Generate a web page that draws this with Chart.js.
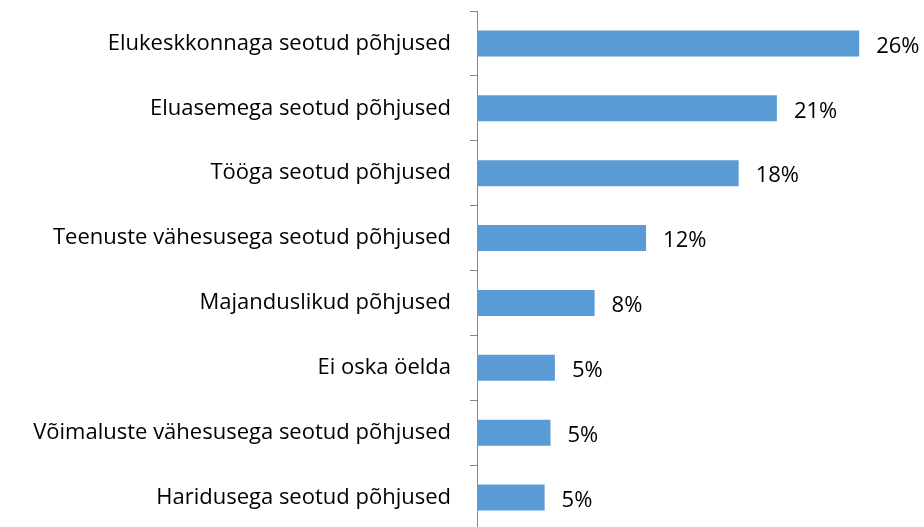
<!DOCTYPE html>
<html>
<head>
<meta charset="utf-8">
<script src="https://cdn.jsdelivr.net/npm/chart.js@4/dist/chart.umd.min.js"></script>
<style>
  html, body { margin: 0; padding: 0; background: #fff; overflow: hidden; }
  #wrap { position: relative; width: 924px; height: 530px; }
</style>
</head>
<body>
<div id="wrap"><canvas id="reasonsChart"></canvas></div>
<script>
const categories = [
  "Elukeskkonnaga seotud põhjused",
  "Eluasemega seotud põhjused",
  "Tööga seotud põhjused",
  "Teenuste vähesusega seotud põhjused",
  "Majanduslikud põhjused",
  "Ei oska öelda",
  "Võimaluste vähesusega seotud põhjused",
  "Haridusega seotud põhjused"
];
const shares = [26.0, 20.4, 17.8, 11.5, 8.0, 5.3, 5.0, 4.6];
const shareLabels = ["26%", "21%", "18%", "12%", "8%", "5%", "5%", "5%"];

const FONT = "'Open Sans', Lato, sans-serif";
const FONT_SIZE = 22;

// value labels at the end of each bar
const barLabels = {
  id: 'barLabels',
  afterDatasetsDraw(chart) {
    const c = chart.ctx;
    const meta = chart.getDatasetMeta(0);
    c.save();
    c.font = FONT_SIZE + "px " + FONT;
    c.fillStyle = "#000";
    c.textAlign = "left";
    c.textBaseline = "middle";
    meta.data.forEach((bar, i) => {
      c.fillText(shareLabels[i], bar.x + 17, bar.y + 3);
    });
    c.restore();
  }
};

var ctx = document.getElementById("reasonsChart").getContext("2d");
var myChart = new Chart(ctx, {
  type: 'bar',
  data: {
    labels: categories,
    datasets: [{
      data: shares,
      backgroundColor: "#5B9BD5",
      borderWidth: 0,
      categoryPercentage: 1,
      barPercentage: 0.4
    }]
  },
  options: {
    indexAxis: 'y',
    responsive: true,
    maintainAspectRatio: false,
    animation: false,
    layout: { padding: { top: 11, right: 6, left: 0, bottom: 0 } },
    plugins: {
      legend: { display: false },
      tooltip: { enabled: false }
    },
    scales: {
      x: {
        display: false,
        min: 0,
        max: 30
      },
      y: {
        afterFit(scale) {
          scale.width = 477;
          scale.paddingTop = 0;
          scale.paddingBottom = 0;
        },
        border: { display: true, color: "#868686", width: 1 },
        grid: {
          display: true,
          drawOnChartArea: false,
          drawTicks: true,
          tickLength: 7,
          color: "#868686",
          offset: true
        },
        ticks: {
          color: "#000",
          padding: 19,
          font: { family: FONT, size: FONT_SIZE }
        }
      }
    }
  },
  plugins: [barLabels]
});
</script>
</body>
</html>
